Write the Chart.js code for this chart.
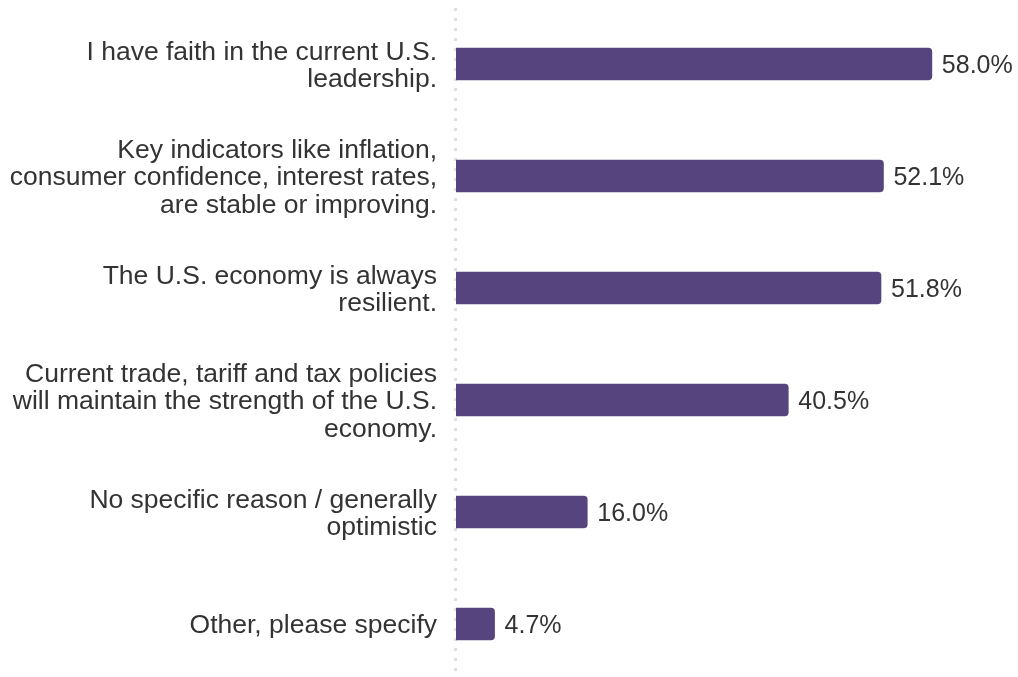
<!DOCTYPE html>
<html>
<head>
<meta charset="utf-8">
<script src="https://cdn.jsdelivr.net/npm/chart.js@4/dist/chart.umd.min.js"></script>
<style>
  html, body { margin: 0; padding: 0; background: #fff; overflow: hidden; }
  #wrap { width: 1018px; height: 680px; }
</style>
</head>
<body>
<div id="wrap"><canvas id="chart" width="1018" height="680"></canvas></div>
<script>
const categories = [
  ["I have faith in the current U.S.", "leadership."],
  ["Key indicators like inflation,", "consumer confidence, interest rates,", "are stable or improving."],
  ["The U.S. economy is always", "resilient."],
  ["Current trade, tariff and tax policies", "will maintain the strength of the U.S.", "economy."],
  ["No specific reason / generally", "optimistic"],
  "Other, please specify"
];
const values = [58.0, 52.1, 51.8, 40.5, 16.0, 4.7];

const FONT = '"Liberation Sans", Arial, sans-serif';
const TEXT = '#333333';

// dotted zero line, from the top of the plot down to the bottom of the page
const zeroLine = {
  id: 'zeroLine',
  beforeDatasetsDraw(chart) {
    const ctx = chart.ctx;
    const x = chart.scales.x.getPixelForValue(0) - 0.5;
    ctx.save();
    ctx.strokeStyle = '#dedede';
    ctx.lineWidth = 3;
    ctx.setLineDash([3, 7]);
    ctx.beginPath();
    ctx.moveTo(x, chart.chartArea.top);
    ctx.lineTo(x, chart.height);
    ctx.stroke();
    ctx.restore();
  }
};

// value labels drawn just past the end of each bar
const valueLabels = {
  id: 'valueLabels',
  afterDatasetsDraw(chart) {
    const ctx = chart.ctx;
    const meta = chart.getDatasetMeta(0);
    ctx.save();
    ctx.font = '25px ' + FONT;
    ctx.fillStyle = TEXT;
    ctx.textAlign = 'left';
    ctx.textBaseline = 'middle';
    meta.data.forEach((bar, i) => {
      ctx.fillText(values[i].toFixed(1) + '%', bar.x + 10, bar.y + 2);
    });
    ctx.restore();
  }
};

new Chart(document.getElementById('chart'), {
  type: 'bar',
  data: {
    labels: categories,
    datasets: [{
      data: values,
      backgroundColor: '#56447f',
      barThickness: 32,
      borderRadius: 4
    }]
  },
  options: {
    indexAxis: 'y',
    responsive: false,
    animation: false,
    layout: { padding: { top: 8, right: 0, bottom: 0, left: 0 } },
    plugins: { legend: { display: false }, tooltip: { enabled: false } },
    scales: {
      x: { display: false, min: 0, max: 68.5 },
      y: {
        afterFit(scale) {
          scale.width = 456;
          scale.paddingTop = 0;
          scale.paddingBottom = 0;
        },
        grid: { display: false, drawTicks: false },
        border: { display: false },
        ticks: {
          padding: 19,
          labelOffset: 2,
          color: TEXT,
          font: { family: FONT, size: 26.5, lineHeight: 1.04 }
        }
      }
    }
  },
  plugins: [zeroLine, valueLabels]
});
</script>
</body>
</html>
